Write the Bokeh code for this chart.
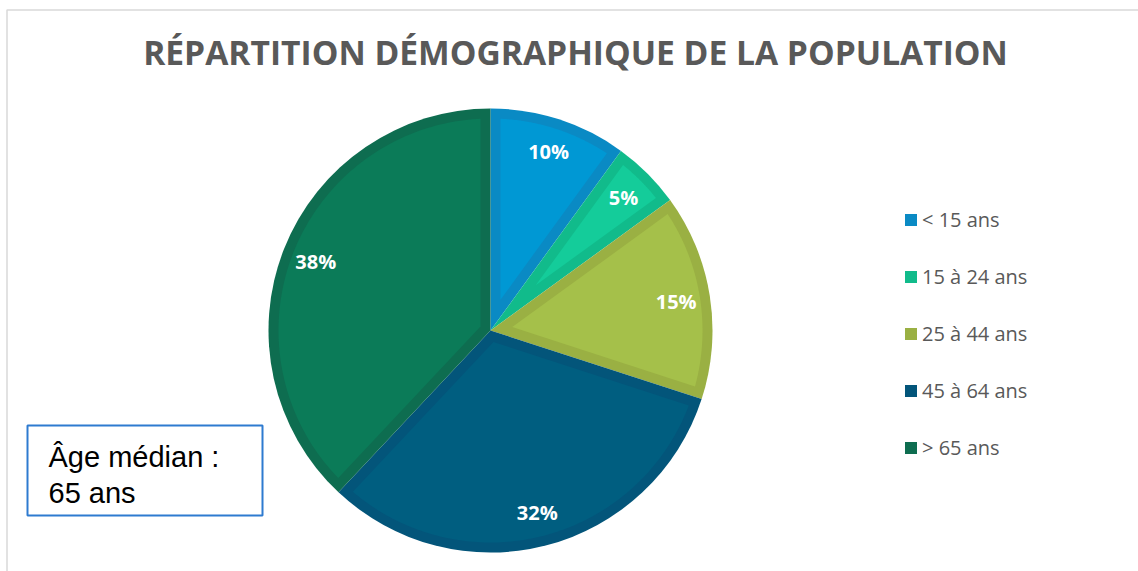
import numpy as np
from bokeh.plotting import figure
from bokeh.models import Range1d, Legend, LegendItem, ColumnDataSource
from bokeh.core.properties import value
from bokeh.embed import file_html
from bokeh.resources import INLINE

# ---- data ----
categories = ["< 15 ans", "15 à 24 ans", "25 à 44 ans", "45 à 64 ans", "> 65 ans"]
shares = [10, 5, 15, 32, 38]
labels = ["10%", "5%", "15%", "32%", "38%"]
fill_colors = ["#0098D4", "#14CC9A", "#A5C04A", "#005E80", "#0B7B58"]
edge_colors = ["#0A8AC4", "#11BB8B", "#9AB043", "#03557A", "#0E6D50"]
title_text = "RÉPARTITION DÉMOGRAPHIQUE DE LA POPULATION"
note_lines = ["Âge médian :", "65 ans"]

W, H = 1138, 571
cx, cy, R = 490, H - 330, 222
band = 10
label_r = 188

p = figure(width=W, height=H, x_range=Range1d(0, W), y_range=Range1d(0, H),
           output_backend="svg", toolbar_location=None, min_border=0,
           background_fill_color="white", border_fill_color="white")
p.axis.visible = False
p.grid.visible = False
p.outline_line_color = None

# chart area frame (light gray)
p.quad(left=6.5, right=W + 20, top=H - 9.5, bottom=-20, fill_color=None,
       line_color="#D9D9D9", line_width=1.5)

# slice angles
frac = np.array(shares, dtype=float) / np.sum(shares)
cum_end = np.cumsum(frac)
cum_start = cum_end - frac
a_lo = np.pi / 2 - 2 * np.pi * cum_end
a_hi = np.pi / 2 - 2 * np.pi * cum_start

src = ColumnDataSource(dict(start=a_lo, end=a_hi, color=edge_colors, cat=categories))
wr = p.wedge(x=cx, y=cy, radius=R, start_angle="start", end_angle="end",
             fill_color="color", line_color=None, source=src)

# inner lighter region of every slice (inset by the band width)
xs, ys = [], []
delta = np.arcsin(band / (R - band))
for lo, hi in zip(a_lo, a_hi):
    span = hi - lo
    mid = (lo + hi) / 2
    d = band / np.sin(span / 2)
    arc = np.linspace(lo + delta, hi - delta, 120)
    px = [cx + d * np.cos(mid)] + list(cx + (R - band) * np.cos(arc))
    py = [cy + d * np.sin(mid)] + list(cy + (R - band) * np.sin(arc))
    xs.append(px)
    ys.append(py)
p.patches(xs=xs, ys=ys, fill_color=fill_colors, line_color=None)

# percentage labels
mids = (a_lo + a_hi) / 2
p.text(x=cx + label_r * np.cos(mids), y=cy + label_r * np.sin(mids), text=labels,
       text_color="white", text_font=value("Open Sans"), text_font_style="bold",
       text_font_size="20px", text_align="center", text_baseline="middle")

# title
p.text(x=[575], y=[H - 51], text=[title_text], text_color="#595959",
       text_font=value("Open Sans"), text_font_style="bold", text_font_size="33.6px",
       text_align="center", text_baseline="middle")

# legend
legend = Legend(items=[LegendItem(label=c, renderers=[wr], index=i) for i, c in enumerate(categories)],
                location=(903, 110), orientation="vertical",
                glyph_width=15, glyph_height=15, label_height=20, label_standoff=4,
                spacing=30, padding=0, margin=0,
                label_text_font="Open Sans", label_text_font_size="20px",
                label_text_color="#595959",
                border_line_color=None, background_fill_alpha=0)
p.add_layout(legend)

# note box
p.quad(left=27, right=262, top=H - 425, bottom=H - 515, fill_color="white",
       line_color="#2E7BD0", line_width=2)
p.text(x=[48, 48], y=[H - 456, H - 492], text=note_lines, text_color="black",
       text_font=value("Liberation Sans"), text_font_size="29px",
       text_align="left", text_baseline="middle")

open("out.html", "w").write(file_html(p, INLINE))
